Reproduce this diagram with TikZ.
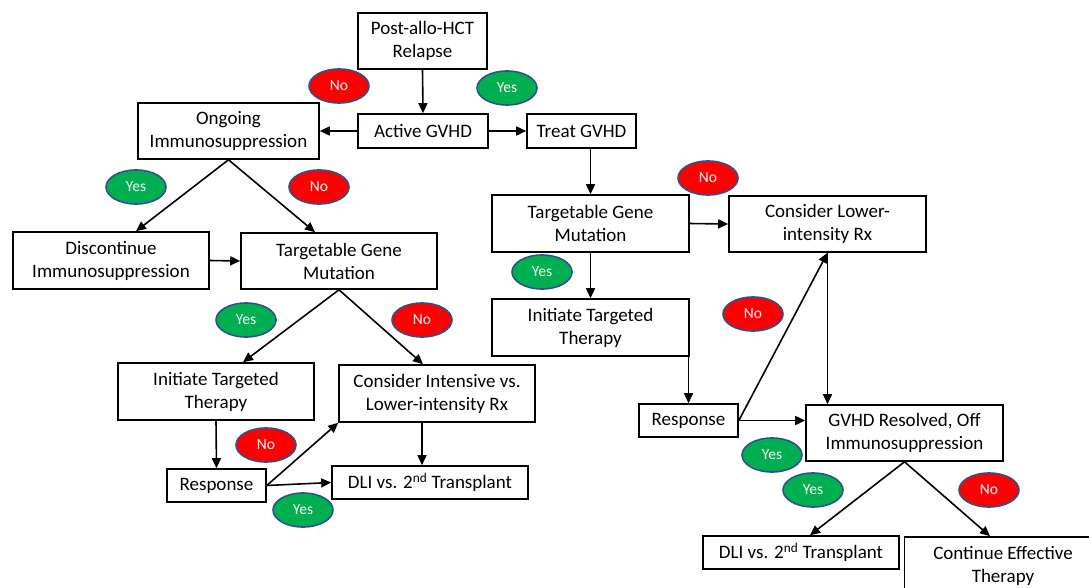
\documentclass[tikz,border=0pt]{standalone}
\usepackage{fontspec}
\setmainfont{Carlito}
\usetikzlibrary{arrows.meta,shapes.geometric}
\definecolor{nored}{HTML}{FF0000}
\definecolor{yesgreen}{HTML}{00B050}
\definecolor{ovborder}{HTML}{2F528F}
\tikzset{
  box/.style={draw=black, line width=1.6pt, fill=white, inner sep=0pt, align=center,
    font=\fontsize{19}{23}\selectfont},
  arr/.style={line width=1.6pt, -{Triangle[length=10pt,width=9pt]}},
  oval/.style={ellipse, draw=ovborder, line width=1.6pt, minimum width=60pt, minimum height=34pt,
    inner sep=0pt, text=white, font=\fontsize{15.5}{18}\selectfont},
  yes/.style={oval, fill=yesgreen},
  no/.style={oval, fill=nored}
}
\begin{document}
\begin{tikzpicture}[x=1pt,y=-1pt]
\useasboundingbox (0,0) rectangle (1089,588);
\clip (0,0) rectangle (1089,588);
% boxes
\node[box, minimum width=129pt, minimum height=56pt] (post) at (422.5,41) {Post-allo-HCT\\Relapse};
\node[box, minimum width=130pt, minimum height=34pt] (agvhd) at (423,131) {Active GVHD};
\node[box, minimum width=181pt, minimum height=56pt] (ongo) at (228.5,131) {Ongoing\\Immunosuppression};
\node[box, minimum width=196pt, minimum height=57pt] (disc) at (111,260.5) {Discontinue\\Immunosuppression};
\node[box, minimum width=196pt, minimum height=56pt] (tgl) at (339,261) {Targetable Gene\\Mutation};
\node[box, minimum width=196pt, minimum height=57pt] (itl) at (216,391.5) {Initiate Targeted\\Therapy};
\node[box, minimum width=196pt, minimum height=57pt] (cil) at (437,393.5) {Consider Intensive vs.\\Lower-intensity Rx};
\node[box, minimum width=99pt, minimum height=33pt] (respl) at (216.5,485.5) {Response};
\node[box, minimum width=196pt, minimum height=33pt] (dlil) at (430,482.5) {DLI vs. 2\textsuperscript{nd} Transplant};
\node[box, minimum width=109pt, minimum height=34pt] (treat) at (581.5,131) {Treat GVHD};
\node[box, minimum width=197pt, minimum height=57pt] (tgr) at (590.5,223.5) {Targetable Gene\\Mutation};
\node[box, minimum width=197pt, minimum height=57pt] (itr) at (590.5,327.5) {Initiate Targeted\\Therapy};
\node[box, minimum width=197pt, minimum height=56pt] (clr) at (827.5,224) {Consider Lower-\\intensity Rx};
\node[box, minimum width=99pt, minimum height=33pt] (respr) at (688.5,420.5) {Response};
\node[box, minimum width=197pt, minimum height=56pt] (gres) at (904.5,433) {GVHD Resolved, Off\\Immunosuppression};
\node[box, minimum width=196pt, minimum height=33pt] (dlir) at (801,552.5) {DLI vs. 2\textsuperscript{nd} Transplant};
\node[box, minimum width=197pt, minimum height=57pt] (cont) at (1003,565.5) {Continue Effective\\Therapy};
% connectors
\draw[arr] (post.south) -- (agvhd.north);
\draw[arr] (agvhd.west) -- (ongo.east);
\draw[arr] (agvhd.east) -- (treat.west);
\draw[arr] (ongo.south) -- ([xshift=25pt]disc.north);
\draw[arr] (ongo.south) -- ([xshift=-24pt]tgl.north);
\draw[arr] (disc.east) -- (tgl.west);
\draw[arr] (tgl.south) -- ([xshift=27pt]itl.north);
\draw[arr] (tgl.south) -- ([xshift=-14pt]cil.north);
\draw[arr] (itl.south) -- (respl.north);
\coordinate (cilb) at ([xshift=-15pt]cil.south);
\draw[arr] (cilb) -- (cilb |- dlil.north);
\draw[arr] (respl.east) -- (cil.south west);
\draw[arr] (respl.east) -- (dlil.west);
\draw[arr] (tgr.north |- treat.south) -- (tgr.north);
\draw[arr] (tgr.south) -- (itr.north);
\draw[arr] (tgr.east) -- (clr.west);
\draw[arr] (respr.north |- itr.south) -- (respr.north);
\draw[arr] (respr.east) -- (clr.south);
\draw[arr] (respr.east) -- (respr.east -| gres.west);
\draw[arr] (clr.south) -- (clr.south |- gres.north);
\draw[arr] (gres.south) -- ([xshift=9pt]dlir.north);
\draw[arr] (gres.south) -- ([xshift=-13pt]cont.north);
% yes/no ovals
\node[no] (n1) at (339,86) {No};
\node[yes] (y1) at (507,88) {Yes};
\node[yes] (y2) at (136,187) {Yes};
\node[no] (n2) at (319,187) {No};
\node[yes] (y3) at (246,320) {Yes};
\node[no] (n3) at (422,320) {No};
\node[no] (n4) at (266,445) {No};
\node[yes] (y4) at (303,510) {Yes};
\node[no] (n5) at (708,178) {No};
\node[yes] (y5) at (542,272) {Yes};
\node[no] (n6) at (753,314) {No};
\node[yes] (y6) at (772,455) {Yes};
\node[yes] (y7) at (813,490) {Yes};
\node[no] (n7) at (989,490) {No};
\end{tikzpicture}
\end{document}
